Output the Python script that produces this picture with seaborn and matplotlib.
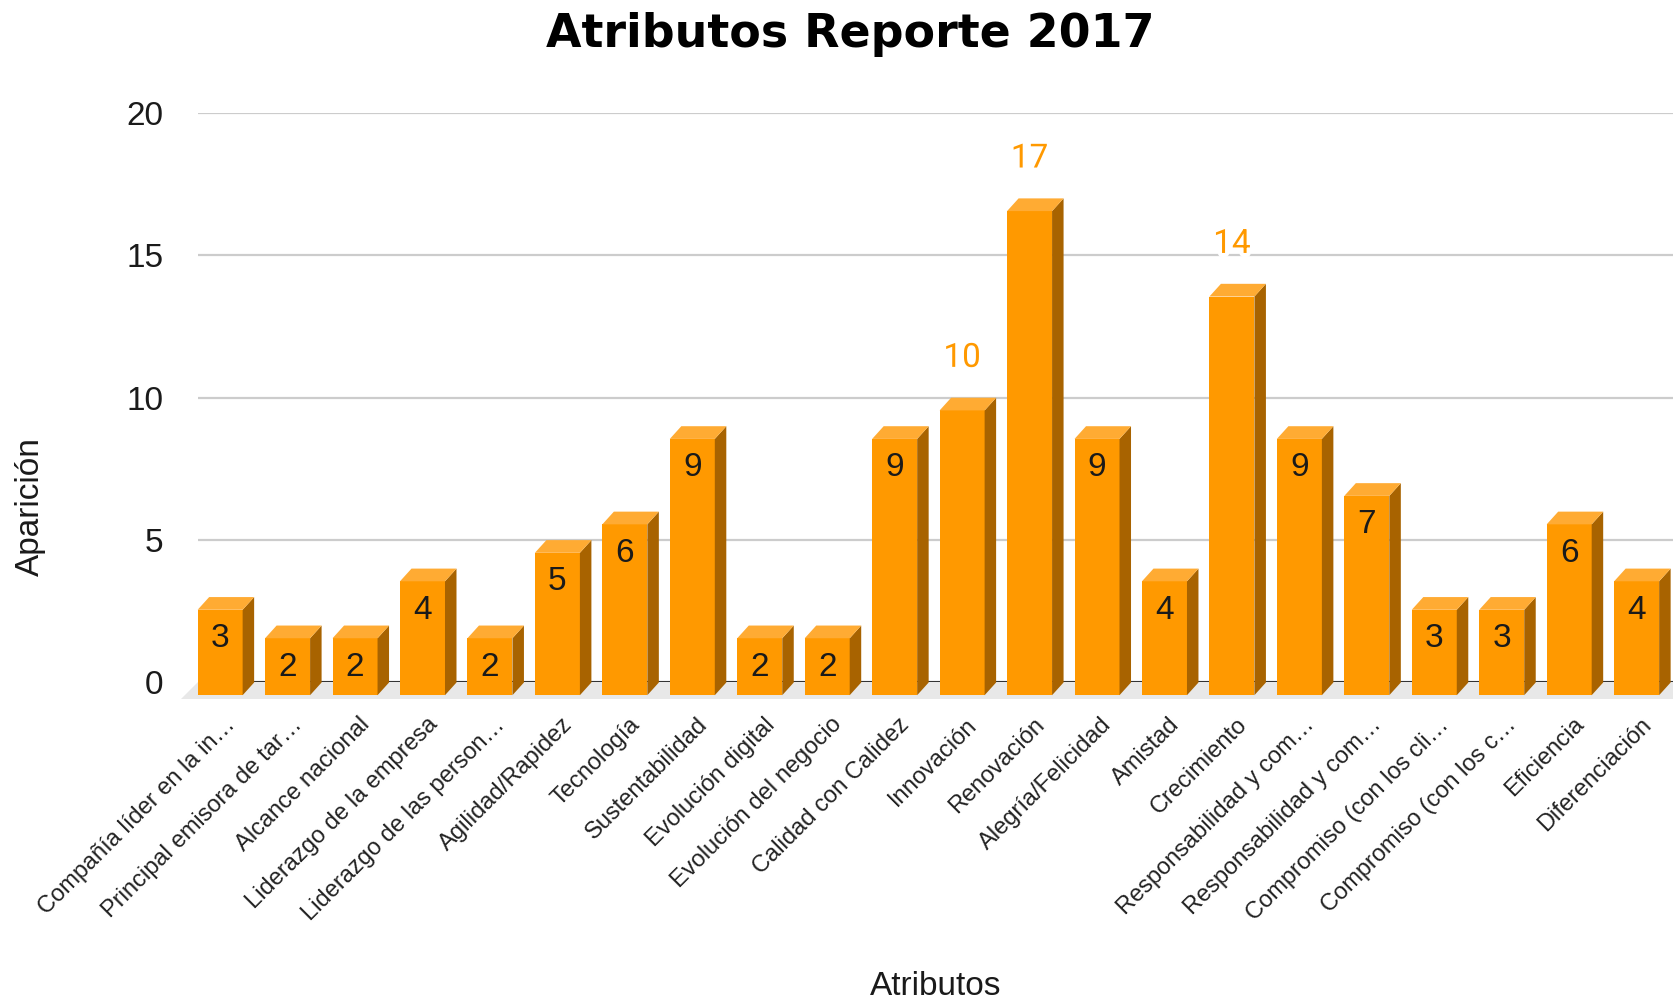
import matplotlib
matplotlib.use("Agg")
import matplotlib.pyplot as plt
from matplotlib.patches import Polygon
from matplotlib.transforms import ScaledTranslation
import matplotlib.patheffects as pe
import seaborn as sns
import pandas as pd

atributos = [
    "Compañía líder en la in…",
    "Principal emisora de tar…",
    "Alcance nacional",
    "Liderazgo de la empresa",
    "Liderazgo de las person…",
    "Agilidad/Rapidez",
    "Tecnología",
    "Sustentabilidad",
    "Evolución digital",
    "Evolución del negocio",
    "Calidad con Calidez",
    "Innovación",
    "Renovación",
    "Alegría/Felicidad",
    "Amistad",
    "Crecimiento",
    "Responsabilidad y com…",
    "Responsabilidad y com…",
    "Compromiso (con los cli…",
    "Compromiso (con los c…",
    "Eficiencia",
    "Diferenciación",
]
apariciones = [3, 2, 2, 4, 2, 5, 6, 9, 2, 2, 9, 10, 17, 9, 4, 14, 9, 7, 3, 3, 6, 4]
y_ticks = [0, 5, 10, 15, 20]

titulo = "Atributos Reporte 2017"
eje_x = "Atributos"
eje_y = "Aparición"

NARANJA = "#ff9900"
TAPA = "#ffab33"
LATERAL = "#a86300"

sns.set_theme(style="white")
plt.rcParams["font.family"] = ["Liberation Sans", "DejaVu Sans"]

W, H = 16.73, 10.05
fig = plt.figure(figsize=(W, H), dpi=100)
ax_left, ax_bottom, ax_w, ax_h = 0.1183, 0.3209, 0.887, 0.5667
ax = fig.add_axes([ax_left, ax_bottom, ax_w, ax_h])

# categorical x positions: use unique placeholder keys so repeated labels stay separate
df = pd.DataFrame({"idx": [str(i) for i in range(len(atributos))], "valor": apariciones})
sns.barplot(data=df, x="idx", y="valor", color=NARANJA, saturation=1,
            width=0.667, errorbar=None, ax=ax, zorder=3)

n = len(atributos)
ax.set_xlim(-0.5, n - 0.5)
ax.set_ylim(0, 20)

# pixel depth of the 3D extrusion converted to data units
px_per_x = ax_w * W * 100 / n
px_per_y = ax_h * H * 100 / 20
ox = 11.5 / px_per_x
oy = 12.7 / px_per_y

# floor plane
floor = Polygon([(-0.5, 0), (n, 0), (n, -16.5 / px_per_y), (-0.5 - 17 / px_per_x, -16.5 / px_per_y)],
                closed=True, facecolor="#e8e8e8", edgecolor="none", zorder=1.5, clip_on=False)
ax.add_patch(floor)
ax.axhline(0, color="#333333", lw=2.2, zorder=2)

bars = list(ax.patches)[: n]
for p, val in zip(bars, apariciones):
    x0, w, h = p.get_x(), p.get_width(), p.get_height()
    # front face moves down-left; the data rectangle becomes the back face
    p.set_x(x0 - ox)
    p.set_y(-oy)
    p.set_linewidth(0)
    p.set_edgecolor("none")
    p.set_clip_on(False)
    p.set_zorder(3)
    top = Polygon([(x0 - ox, h - oy), (x0 + w - ox, h - oy), (x0 + w, h), (x0, h)],
                  closed=True, facecolor=TAPA, edgecolor="none", zorder=3, clip_on=False)
    side = Polygon([(x0 + w - ox, -oy), (x0 + w, 0), (x0 + w, h), (x0 + w - ox, h - oy)],
                   closed=True, facecolor=LATERAL, edgecolor="none", zorder=3, clip_on=False)
    ax.add_patch(side)
    ax.add_patch(top)
    cx = x0 - ox + w / 2
    if val >= 10:
        ax.text(cx, h + 1.4, str(val), ha="center", va="center", fontsize=24,
                color=NARANJA, family="Roboto", zorder=5,
                path_effects=[pe.withStroke(linewidth=6, foreground="white")])
    else:
        ax.text(cx, h - oy - 1.02, str(val), ha="center", va="center", fontsize=24,
                color="#1a1a1a", zorder=5)

ax.set_yticks(y_ticks)
ax.set_yticklabels([str(t) for t in y_ticks])
ax.tick_params(axis="y", length=0, pad=25, labelsize=24, labelcolor="#1a1a1a")
ax.grid(axis="y", color="#cccccc", lw=1.6)
ax.grid(axis="x", visible=False)
ax.set_axisbelow(True)
for s in ax.spines.values():
    s.set_visible(False)

ax.set_xticks(range(n))
ax.set_xticklabels(atributos, rotation=45, ha="right", va="center",
                   rotation_mode="anchor", fontsize=17, color="#222222")
ax.tick_params(axis="x", length=0, pad=28)
shift = ScaledTranslation(0, 0, fig.dpi_scale_trans)
for lbl in ax.get_xticklabels():
    lbl.set_transform(lbl.get_transform() + shift)

ax.set_xlabel("")
ax.set_ylabel("")

fig.text(0.508, 0.966, titulo, ha="center", va="center", fontsize=33,
         fontweight="bold", family="DejaVu Sans", color="#000000")
fig.text(0.018, 0.4955, eje_y, ha="center", va="center", rotation=90,
         fontsize=24, color="#1a1a1a")
fig.text(0.559, 0.018, eje_x, ha="center", va="center", fontsize=24, color="#1a1a1a")

fig.savefig("out.png", dpi=100)
